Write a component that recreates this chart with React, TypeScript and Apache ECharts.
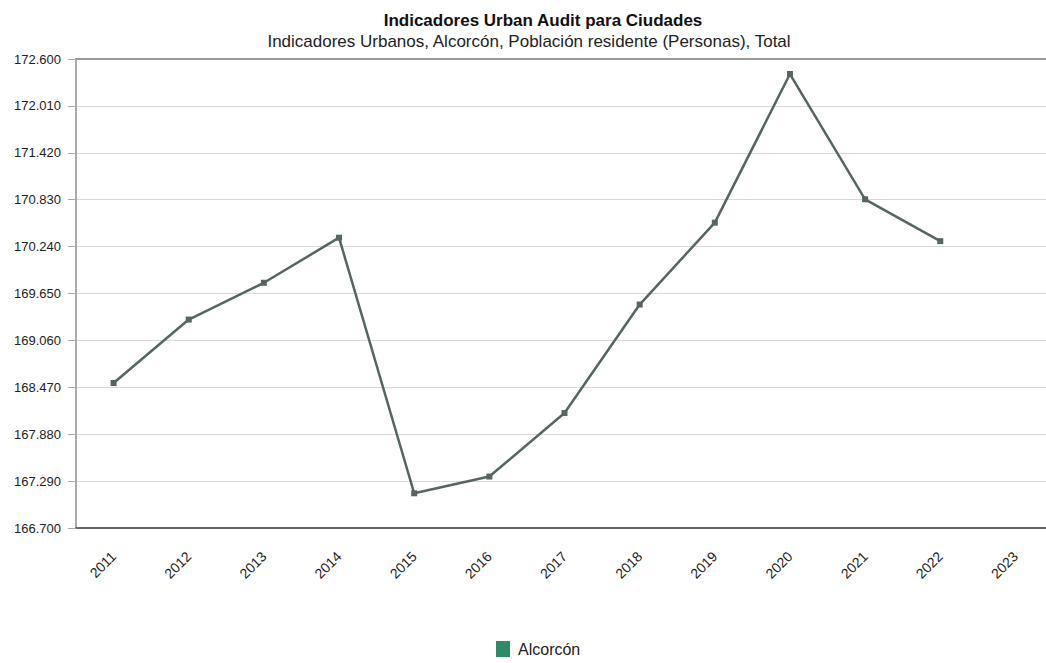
import React, { useEffect, useRef } from "react";
import * as echarts from "echarts";

const categories = ["2011", "2012", "2013", "2014", "2015", "2016", "2017", "2018", "2019", "2020", "2021", "2022", "2023"];
const population = [168524, 169322, 169785, 170352, 167137, 167347, 168146, 169511, 170541, 172411, 170835, 170309, null];
const seriesName = "Alcorcón";
const titleText = "Indicadores Urban Audit para Ciudades";
const subtitleText = "Indicadores Urbanos, Alcorcón, Población residente (Personas), Total";

const fmt = (v: number) => Math.round(v).toString().replace(/\B(?=(\d{3})+(?!\d))/g, ".");

export default function App() {
  const ref = useRef<HTMLDivElement>(null);
  useEffect(() => {
    if (!ref.current) return;
    const chart = echarts.init(ref.current, undefined, { renderer: "svg" });
    const font = "'Liberation Sans', Arial, sans-serif";
    chart.setOption({
      animation: false,
      backgroundColor: "#fff",
      textStyle: { fontFamily: font },
      title: [
        {
          text: titleText,
          left: 538,
          textAlign: "center",
          top: 7,
          textStyle: { fontSize: 17, fontWeight: "bold", color: "#111", fontFamily: font },
        },
        {
          text: subtitleText,
          left: 524,
          textAlign: "center",
          top: 28,
          textStyle: { fontSize: 17, fontWeight: "normal", color: "#222", fontFamily: font },
        },
      ],
      legend: {
        bottom: 1,
        left: 491,
        itemWidth: 14,
        itemHeight: 16,
        itemGap: 8,
        icon: "rect",
        textStyle: { fontSize: 16, color: "#222", fontFamily: font, padding: [0, 0, 0, 3] },
        data: [{ name: seriesName, itemStyle: { color: "#2f8a68" } }],
      },
      grid: { left: 76, right: 0, top: 59, bottom: 135, containLabel: false },
      xAxis: [
        {
          type: "category",
          data: categories,
          boundaryGap: true,
          axisLine: { show: true, lineStyle: { color: "#666", width: 2 } },
          axisTick: { show: false },
          splitLine: { show: false },
          axisLabel: {
            rotate: 45,
            fontSize: 14,
            color: "#222",
            margin: 26,
            interval: 0,
          },
        },
        {
          type: "category",
          data: categories,
          position: "top",
          axisLine: { show: true, lineStyle: { color: "#999", width: 2 } },
          axisTick: { show: false },
          axisLabel: { show: false },
        },
      ],
      yAxis: {
        type: "value",
        min: 166700,
        max: 172600,
        interval: 590,
        axisLine: { show: true, lineStyle: { color: "#aaa", width: 2 } },
        axisTick: { show: true, length: 8, lineStyle: { color: "#aaa" } },
        axisLabel: { fontSize: 13, color: "#222", margin: 15, formatter: fmt },
        splitLine: { show: true, lineStyle: { color: "#d8d8d8", width: 1 } },
      },
      series: [
        {
          name: seriesName,
          type: "line",
          data: population,
          symbol: "rect",
          symbolSize: 6,
          lineStyle: { color: "#56665f", width: 2.5 },
          itemStyle: { color: "#56665f" },
        },
      ],
    });
    return () => chart.dispose();
  }, []);
  return (
    <div style={{ width: 1046, height: 663, position: "absolute", left: 0, top: 0, overflow: "hidden" }}>
      <div ref={ref} style={{ width: 1053, height: 663 }} />
    </div>
  );
}
